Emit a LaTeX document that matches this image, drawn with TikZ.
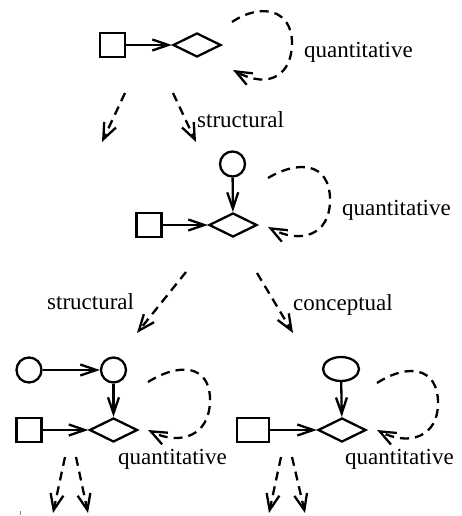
\documentclass[tikz,border=0pt]{standalone}
\usepackage{fontspec}
\setmainfont{Liberation Serif}
\usetikzlibrary{arrows.meta,shapes.geometric}
\tikzset{
  lw/.style={line width=2.3pt},
  sq/.style={draw,lw,rectangle,inner sep=0pt,minimum width=25pt,minimum height=24pt},
  circ/.style={draw,lw,circle,inner sep=0pt,minimum size=25pt},
  ell/.style={draw,lw,ellipse,inner sep=0pt,minimum width=36pt,minimum height=24pt},
  dia/.style={draw,lw,diamond,aspect=2,inner sep=0pt,minimum width=48pt,minimum height=24pt},
  arr/.style={lw,-{Straight Barb[length=16pt,width=11pt,line width=2.3pt]}},
  darr/.style={lw,dash pattern=on 9pt off 6pt,-{Straight Barb[length=16pt,width=13pt,line width=2.3pt]}},
  lbl/.style={anchor=base west,inner sep=0pt,font=\fontsize{23}{27}\selectfont},
}
\begin{document}
\begin{tikzpicture}[x=1pt,y=-1pt]
\useasboundingbox (0,0) rectangle (461,516);
% ---- top group
\node[sq] (s1) at (112.5,45) {};
\node[dia] (d1) at (197,45) {};
\draw[arr] (s1) -- (d1);
\coordinate (l1a) at (232,22);
\coordinate (l1e) at (233,70);
\draw[darr] (l1a) .. controls (262,2) and (292,10) .. (292,43)
  .. controls (292,74) and (270,90) .. (l1e);
\node[lbl] (q1) at (304,58) {quantitative};
\coordinate (t1a) at (125,93);
\coordinate (t1b) at (102,142);
\coordinate (t2a) at (173,93);
\coordinate (t2b) at (196,142);
\draw[darr] (t1a) -- (t1b);
\draw[darr] (t2a) -- (t2b);
\node[lbl] (st1) at (197,128) {structural};
% ---- second group
\node[circ] (c2) at (232.5,164) {};
\node[dia] (d2) at (233,225) {};
\node[sq] (s2) at (149,225) {};
\draw[arr] (c2) -- (d2);
\draw[arr] (s2) -- (d2);
\coordinate (l2a) at (268,178);
\coordinate (l2e) at (268,227);
\draw[darr] (l2a) .. controls (298,160) and (330,162) .. (330,200)
  .. controls (330,236) and (300,244) .. (l2e);
\node[lbl] (q2) at (342,215) {quantitative};
\coordinate (u1a) at (186,272);
\coordinate (u1b) at (137,333);
\coordinate (u2a) at (257,273);
\coordinate (u2b) at (293,333);
\draw[darr] (u1a) -- (u1b);
\draw[darr] (u2a) -- (u2b);
\node[lbl] (st2) at (47,309) {structural};
\node[lbl] (cp) at (293,310) {conceptual};
% ---- bottom left group
\node[circ] (c3a) at (29,370) {};
\node[circ] (c3b) at (113.5,370) {};
\node[dia] (d3) at (113.5,430) {};
\node[sq] (s3) at (29,430) {};
\draw[arr] (c3a) -- (c3b);
\draw[arr] (c3b) -- (d3);
\draw[arr] (s3) -- (d3);
\coordinate (l3a) at (148,382);
\coordinate (l3e) at (148,430);
\draw[darr] (l3a) .. controls (180,362) and (210,365) .. (210,400)
  .. controls (210,436) and (180,446) .. (l3e);
\node[lbl] (q3) at (118,464) {quantitative};
\coordinate (v1a) at (65,457);
\coordinate (v1b) at (53,513);
\coordinate (v2a) at (76,457);
\coordinate (v2b) at (88,513);
\draw[darr] (v1a) -- (v1b);
\draw[darr] (v2a) -- (v2b);
\fill[gray] (19.5,511) rectangle (21,515);
% ---- bottom right group
\node[ell] (e4) at (341,369) {};
\node[dia] (d4) at (342,430) {};
\node[sq,minimum width=32pt] (s4) at (253,430) {};
\draw[arr] (e4) -- (d4);
\draw[arr] (s4) -- (d4);
\coordinate (l4a) at (377,383);
\coordinate (l4e) at (377,430);
\draw[darr] (l4a) .. controls (408,363) and (438,367) .. (438,403)
  .. controls (438,438) and (408,446) .. (l4e);
\node[lbl] (q4) at (345,464) {quantitative};
\coordinate (w1a) at (281,457);
\coordinate (w1b) at (269,513);
\coordinate (w2a) at (292,457);
\coordinate (w2b) at (305,513);
\draw[darr] (w1a) -- (w1b);
\draw[darr] (w2a) -- (w2b);
\end{tikzpicture}
\end{document}
